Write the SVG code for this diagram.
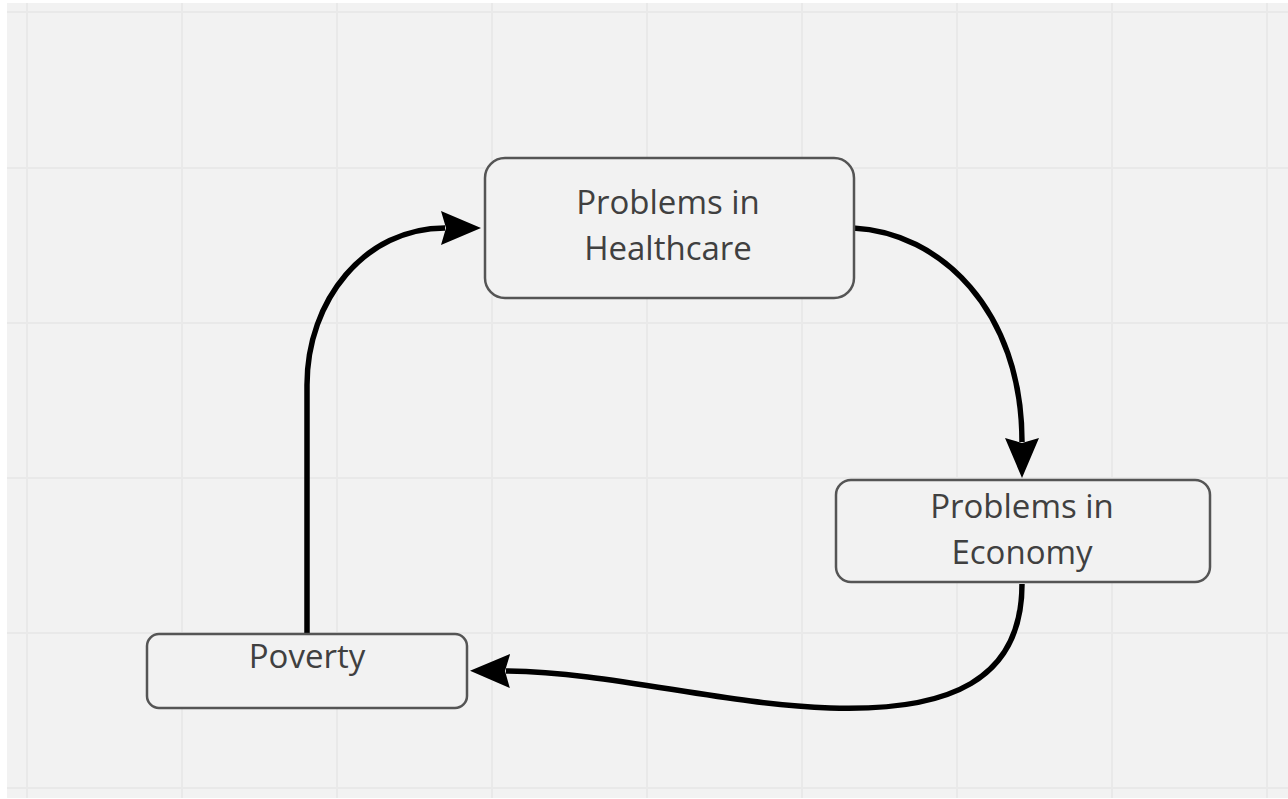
<svg xmlns="http://www.w3.org/2000/svg" width="1288" height="799" viewBox="0 0 1288 799">
  <defs>
    <style>
      .grid { stroke: #e9e9e9; stroke-width: 2; fill: none; }
      .node rect { fill: #f2f2f2; stroke: #555555; stroke-width: 2.5; }
      .node text { font-family: "Open Sans", "Liberation Sans", sans-serif; font-size: 33px; fill: #404040; text-anchor: middle; }
      .conn { fill: none; stroke: #000000; stroke-width: 5.5; marker-end: url(#arrow); }
    </style>
    <marker id="arrow" markerUnits="userSpaceOnUse" markerWidth="44" markerHeight="36" refX="4" refY="17" orient="auto" viewBox="0 0 44 36">
      <path d="M0,0 L40,17 L0,34 L5,17 z" fill="#000000"/>
    </marker>
  </defs>
  <rect x="0" y="0" width="1288" height="799" fill="#ffffff"/>
  <rect x="7" y="3" width="1281" height="795" fill="#f2f2f2"/>
  <g id="grid" class="grid">
    <path d="M27,3V798 M182,3V798 M337,3V798 M492,3V798 M647,3V798 M802,3V798 M957,3V798 M1112,3V798 M1267,3V798"/>
    <path d="M7,12H1288 M7,168H1288 M7,323H1288 M7,478H1288 M7,633H1288 M7,788H1288"/>
  </g>
  <g id="connectors">
    <path class="conn" d="M307,633 L307,385 C307,300 365,228 445,228"/>
    <path class="conn" d="M853,228 C940,232 1022,310 1022,442"/>
    <path class="conn" d="M1022,584 C1022,680 950,712 830,708 C720,704 610,672 506,671"/>
  </g>
  <g id="node-healthcare" class="node">
    <rect x="485" y="158" width="369" height="140" rx="20"/>
    <text x="668" y="214">Problems in</text>
    <text x="668" y="260">Healthcare</text>
  </g>
  <g id="node-economy" class="node">
    <rect x="836" y="480" width="374" height="102" rx="15"/>
    <text x="1022" y="518">Problems in</text>
    <text x="1022" y="564">Economy</text>
  </g>
  <g id="node-poverty" class="node">
    <rect x="147" y="634" width="320" height="74" rx="12"/>
    <text x="307" y="668">Poverty</text>
  </g>
</svg>
